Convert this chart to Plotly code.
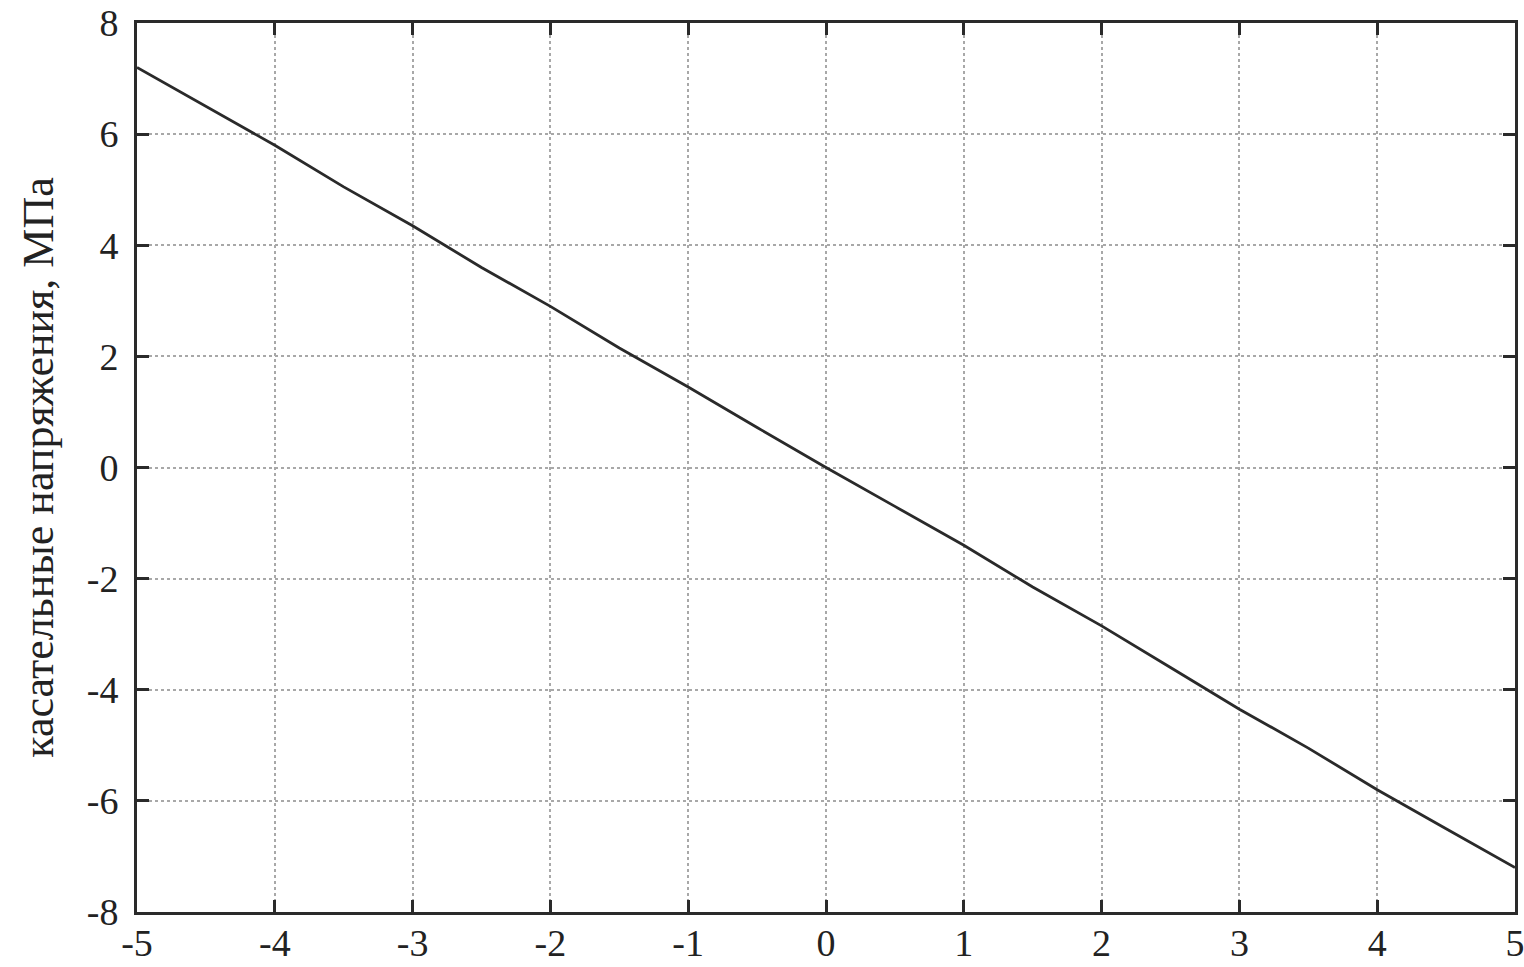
import plotly.graph_objects as go

# data
x_vals = [-5, -4.5, -4, -3.5, -3, -2.5, -2, -1.5, -1, -0.5, 0, 0.5, 1, 1.5, 2, 2.5, 3, 3.5, 4, 4.5, 5]
tau_vals = [7.2, 6.5, 5.8, 5.05, 4.35, 3.6, 2.9, 2.15, 1.45, 0.72, 0.0, -0.7, -1.4, -2.15, -2.85, -3.6, -4.35, -5.05, -5.8, -6.5, -7.2]
x_ticks = [-5, -4, -3, -2, -1, 0, 1, 2, 3, 4, 5]
y_ticks = [-8, -6, -4, -2, 0, 2, 4, 6, 8]
y_title = 'касательные напряжения, МПа'

serif = 'Liberation Serif, Times New Roman, serif'

fig = go.Figure(go.Scatter(
    x=x_vals,
    y=tau_vals,
    mode='lines',
    line={'color': '#2a2a2a', 'width': 2.8},
    showlegend=False
))

axis_common = dict(
    showline=True,
    linecolor='#2a2a2a',
    linewidth=3,
    mirror='ticks',
    ticks='inside',
    ticklen=12,
    tickwidth=3,
    tickcolor='#2a2a2a',
    showgrid=True,
    gridcolor='#a8a8a8',
    griddash='dot',
    gridwidth=1.5,
    zeroline=False,
    automargin=False,
    ticklabeloverflow='allow',
)

fig.update_xaxes(range=[-5, 5], tickvals=x_ticks, ticktext=[str(v) for v in x_ticks],
                 ticklabelstandoff=-5,
                 tickfont={'family': serif, 'size': 38, 'color': '#222222'},
                 **axis_common)
fig.update_yaxes(range=[-8, 8], tickvals=y_ticks, ticktext=[str(v) for v in y_ticks],
                 ticklabelstandoff=8,
                 tickfont={'family': serif, 'size': 38, 'color': '#222222'},
                 title={'text': y_title, 'font': {'family': serif, 'size': 44, 'color': '#222222'}, 'standoff': 20},
                 **axis_common)

fig.update_layout(
    width=1524,
    height=967,
    plot_bgcolor='white',
    paper_bgcolor='white',
    margin={'l': 137, 'r': 9, 't': 23, 'b': 55},
)

# drop the browser's default body margin so the figure sits at the page corner
fig.write_html("out.html", config={'displayModeBar': False},
               post_script="document.body.style.margin='0';")
